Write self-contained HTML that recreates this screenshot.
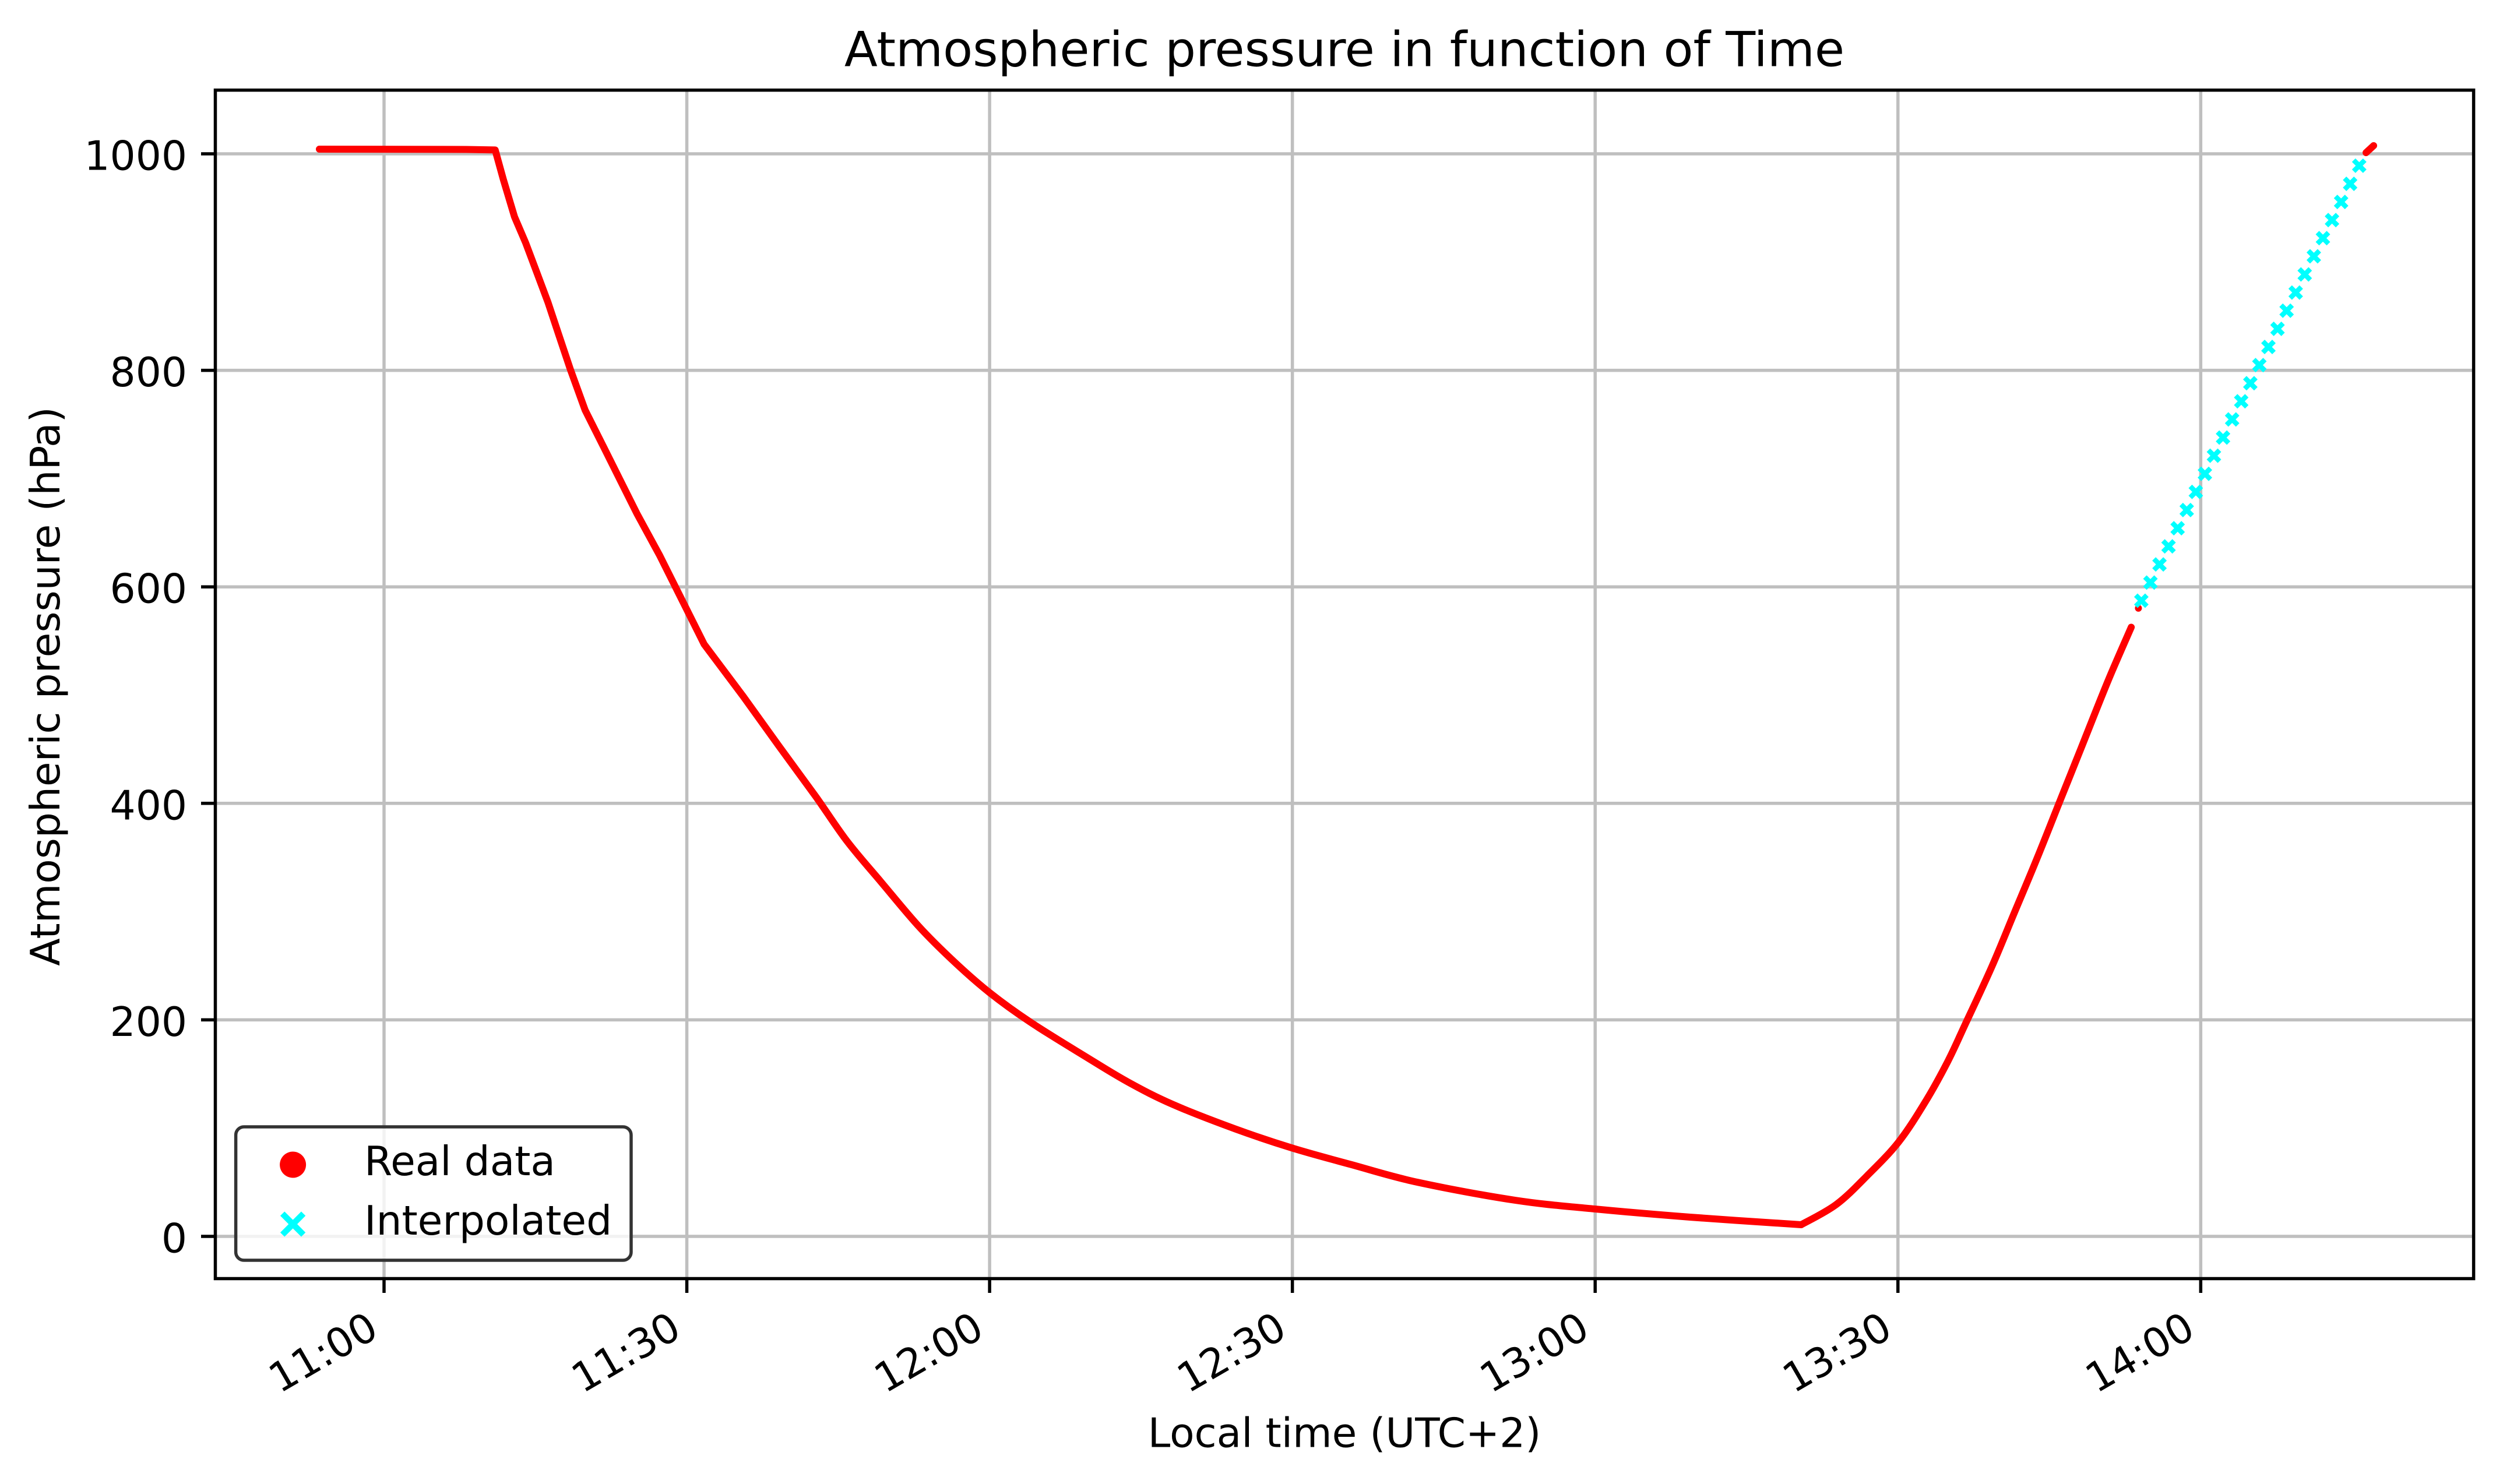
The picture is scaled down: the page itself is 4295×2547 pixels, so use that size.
<!DOCTYPE html>
<html>
<head>
<meta charset="utf-8">
<style>
  html, body { margin: 0; padding: 0; background: #ffffff; }
  svg { display: block; }
  text { font-family: "DejaVu Sans", "Liberation Sans", sans-serif; fill: #000; }
</style>
</head>
<body>
<svg width="4295" height="2547" viewBox="0 0 4295 2547" xmlns="http://www.w3.org/2000/svg">
  <rect x="0" y="0" width="4295" height="2547" fill="#ffffff"/>

  <!-- Grid -->
  <g stroke="#bfbfbf" stroke-width="5.5" fill="none">
    <line x1="659" y1="154.7" x2="659" y2="2194.5"/>
    <line x1="1178.55" y1="154.7" x2="1178.55" y2="2194.5"/>
    <line x1="1698.1" y1="154.7" x2="1698.1" y2="2194.5"/>
    <line x1="2217.65" y1="154.7" x2="2217.65" y2="2194.5"/>
    <line x1="2737.2" y1="154.7" x2="2737.2" y2="2194.5"/>
    <line x1="3256.75" y1="154.7" x2="3256.75" y2="2194.5"/>
    <line x1="3776.3" y1="154.7" x2="3776.3" y2="2194.5"/>
    <line x1="369.5" y1="2122" x2="4244.6" y2="2122"/>
    <line x1="369.5" y1="1750.4" x2="4244.6" y2="1750.4"/>
    <line x1="369.5" y1="1378.8" x2="4244.6" y2="1378.8"/>
    <line x1="369.5" y1="1007.2" x2="4244.6" y2="1007.2"/>
    <line x1="369.5" y1="635.6" x2="4244.6" y2="635.6"/>
    <line x1="369.5" y1="264" x2="4244.6" y2="264"/>
  </g>

  <!-- Real data (red) -->
  <path fill="none" stroke="#ff0000" stroke-width="12" stroke-linecap="round" stroke-linejoin="round"
    d="M548 256 L800 256.5 L849.7 257.4 L863.8 308.4 L882.9 372.2 L902 416.8 L921.2 467.9 L940.3 518.9 L959.4 576.3 L978.6 633.7 L1004 703.8 L1036 767.6 L1067.9 831.4 L1093.4 882.4 L1131.6 952.6 L1163.5 1016.3 L1208.2 1105.6 L1275.1 1194.9 L1337 1281 L1400 1367.3
    C1419.4 1394.5 1435.1 1419.7 1453.6 1443.9
    C1472.1 1468.1 1490.6 1488.5 1511 1512.7
    C1531.4 1536.9 1555.0 1566.3 1576 1589.3
    C1597.0 1612.3 1616.8 1631.4 1637.2 1650.5
    C1657.6 1669.6 1676.8 1686.8 1698.5 1704
    C1720.2 1721.2 1740.5 1735.9 1767.3 1753.8
    C1794.1 1771.7 1831.1 1794.0 1859.2 1811.2
    C1887.3 1828.4 1910.2 1843.1 1935.7 1857.1
    C1961.2 1871.1 1981.6 1882.0 2012.2 1895.4
    C2042.8 1908.8 2085.2 1925.0 2119.4 1937.5
    C2153.6 1950.0 2184.2 1960.2 2217.3 1970.4
    C2250.5 1980.6 2282.3 1988.9 2318.3 1998.7
    C2354.3 2008.5 2386.2 2019.1 2433.1 2029.3
    C2480.1 2039.5 2549.1 2052.4 2600 2060
    C2651.0 2067.7 2688.8 2070.4 2738.8 2075.2
    C2788.8 2080.0 2841.3 2084.5 2900 2089
    C2958.7 2093.5 3059.0 2099.8 3090.8 2102
    C3100.8 2096.3 3131.6 2081.6 3150.5 2067.6
    C3169.4 2053.6 3186.2 2035.7 3204 2017.8
    C3221.9 1999.9 3241.0 1981.5 3257.6 1960.4
    C3274.2 1939.4 3289.5 1914.5 3303.5 1891.5
    C3317.5 1868.6 3330.3 1845.0 3341.8 1822.7
    C3353.3 1800.4 3359.7 1785.0 3372.4 1757.6
    C3385.2 1730.2 3404.3 1690.0 3418.3 1658.1
    C3432.3 1626.2 3443.8 1596.9 3456.6 1566.3
    C3469.4 1535.7 3482.2 1505.8 3494.9 1474.5
    C3507.7 1443.3 3520.4 1410.7 3533.1 1378.8
    C3545.9 1346.9 3557.4 1318.3 3571.4 1283.2
    C3585.4 1248.1 3603.0 1202.9 3617.3 1168.4
    C3631.6 1133.9 3650.5 1091.8 3657.1 1076.5"/>
  <circle cx="3669.4" cy="1043.9" r="6" fill="#ff0000"/>
  <line x1="4060" y1="262" x2="4073" y2="250" stroke="#ff0000" stroke-width="12" stroke-linecap="round"/>

  <!-- Interpolated (cyan x) -->
  <path fill="none" stroke="#00ffff" stroke-width="8.5" d="
    M3664.9 1021.5 l19 19 m-19 0 l19 -19
    M3680.5 990.4 l19 19 m-19 0 l19 -19
    M3696.1 959.3 l19 19 m-19 0 l19 -19
    M3711.6 928.2 l19 19 m-19 0 l19 -19
    M3727.2 897.1 l19 19 m-19 0 l19 -19
    M3742.8 865.9 l19 19 m-19 0 l19 -19
    M3758.4 834.8 l19 19 m-19 0 l19 -19
    M3774 803.7 l19 19 m-19 0 l19 -19
    M3789.5 772.6 l19 19 m-19 0 l19 -19
    M3805.1 741.5 l19 19 m-19 0 l19 -19
    M3820.7 710.4 l19 19 m-19 0 l19 -19
    M3836.3 679.3 l19 19 m-19 0 l19 -19
    M3851.9 648.2 l19 19 m-19 0 l19 -19
    M3867.4 617.1 l19 19 m-19 0 l19 -19
    M3883 586 l19 19 m-19 0 l19 -19
    M3898.6 554.9 l19 19 m-19 0 l19 -19
    M3914.2 523.7 l19 19 m-19 0 l19 -19
    M3929.8 492.6 l19 19 m-19 0 l19 -19
    M3945.3 461.5 l19 19 m-19 0 l19 -19
    M3960.9 430.4 l19 19 m-19 0 l19 -19
    M3976.5 399.3 l19 19 m-19 0 l19 -19
    M3992.1 368.2 l19 19 m-19 0 l19 -19
    M4007.7 337.1 l19 19 m-19 0 l19 -19
    M4023.2 306 l19 19 m-19 0 l19 -19
    M4038.8 274.9 l19 19 m-19 0 l19 -19"/>

  <!-- Axes frame -->
  <rect x="369.5" y="154.7" width="3875.1" height="2039.8" fill="none" stroke="#000" stroke-width="5.5" stroke-linejoin="miter"/>

  <!-- Ticks -->
  <g stroke="#000" stroke-width="5.5">
    <line x1="659" y1="2194.5" x2="659" y2="2219"/>
    <line x1="1178.55" y1="2194.5" x2="1178.55" y2="2219"/>
    <line x1="1698.1" y1="2194.5" x2="1698.1" y2="2219"/>
    <line x1="2217.65" y1="2194.5" x2="2217.65" y2="2219"/>
    <line x1="2737.2" y1="2194.5" x2="2737.2" y2="2219"/>
    <line x1="3256.75" y1="2194.5" x2="3256.75" y2="2219"/>
    <line x1="3776.3" y1="2194.5" x2="3776.3" y2="2219"/>
    <line x1="345" y1="2122" x2="369.5" y2="2122"/>
    <line x1="345" y1="1750.4" x2="369.5" y2="1750.4"/>
    <line x1="345" y1="1378.8" x2="369.5" y2="1378.8"/>
    <line x1="345" y1="1007.2" x2="369.5" y2="1007.2"/>
    <line x1="345" y1="635.6" x2="369.5" y2="635.6"/>
    <line x1="345" y1="264" x2="369.5" y2="264"/>
  </g>

  <!-- Y tick labels -->
  <g font-size="69.4" text-anchor="end">
    <text x="321" y="2149.5">0</text>
    <text x="321" y="1777.9">200</text>
    <text x="321" y="1406.3">400</text>
    <text x="321" y="1034.7">600</text>
    <text x="321" y="663.1">800</text>
    <text x="321" y="291.5">1000</text>
  </g>

  <!-- X tick labels (rotated 30deg) -->
  <g font-size="69.4" text-anchor="end">
    <text transform="translate(653,2292) rotate(-30)">11:00</text>
    <text transform="translate(1172.55,2292) rotate(-30)">11:30</text>
    <text transform="translate(1692.1,2292) rotate(-30)">12:00</text>
    <text transform="translate(2211.65,2292) rotate(-30)">12:30</text>
    <text transform="translate(2731.2,2292) rotate(-30)">13:00</text>
    <text transform="translate(3250.75,2292) rotate(-30)">13:30</text>
    <text transform="translate(3770.3,2292) rotate(-30)">14:00</text>
  </g>

  <!-- Axis labels and title -->
  <text x="2307" y="2483.3" font-size="69.4" text-anchor="middle">Local time (UTC+2)</text>
  <text transform="translate(102,1178) rotate(-90)" font-size="69.4" text-anchor="middle">Atmospheric pressure (hPa)</text>
  <text x="2307" y="113.3" font-size="83.3" text-anchor="middle">Atmospheric pressure in function of Time</text>

  <!-- Legend -->
  <rect x="404.6" y="1934" width="678.4" height="229" rx="14" ry="14" fill="#ffffff" fill-opacity="0.8" stroke="#333333" stroke-width="5.5"/>
  <circle cx="502.6" cy="1999" r="22.5" fill="#ff0000"/>
  <path d="M484.6 2083 L520.6 2119 M484.6 2119 L520.6 2083" stroke="#00ffff" stroke-width="10.4" fill="none"/>
  <text x="625" y="2017" font-size="69.4">Real data</text>
  <text x="625" y="2119" font-size="69.4">Interpolated</text>
</svg>
</body>
</html>
